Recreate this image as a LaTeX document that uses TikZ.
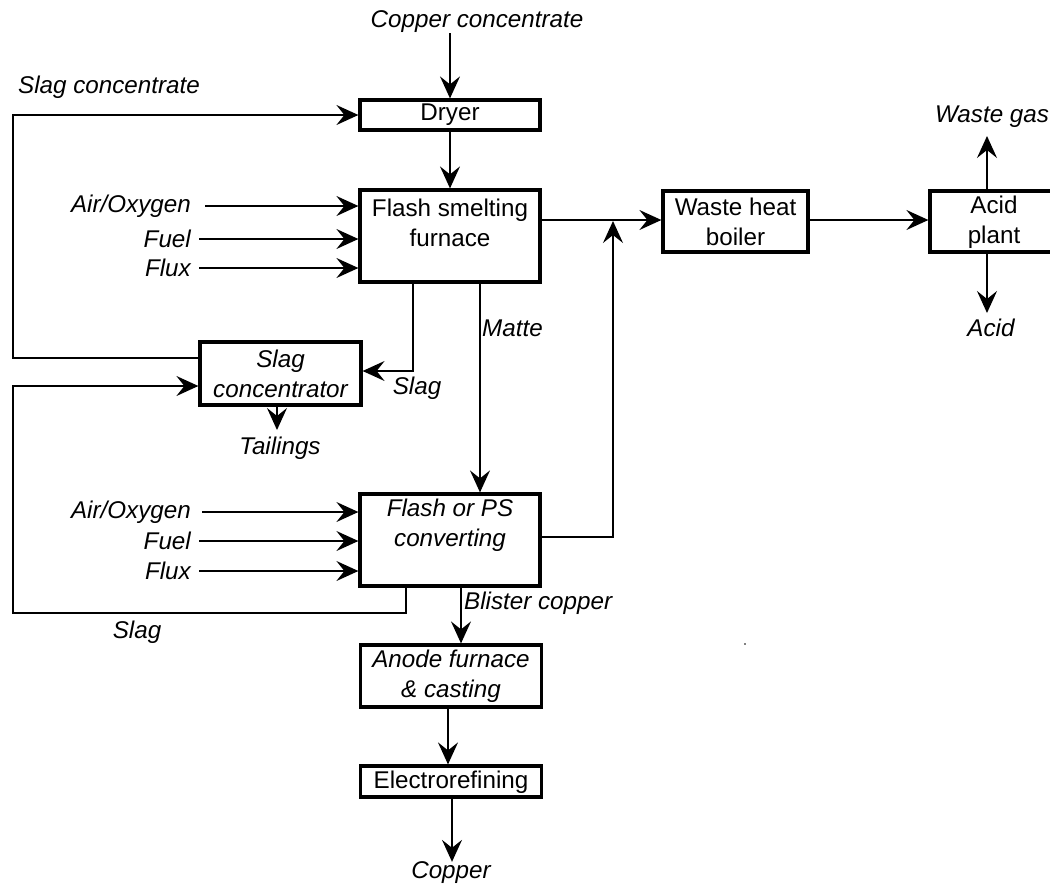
\documentclass[tikz,border=0pt]{standalone}
\usepackage{fontspec}
\setmainfont{Liberation Sans}
\usetikzlibrary{arrows.meta}
\begin{document}
\begin{tikzpicture}[x=1pt,y=-1pt,
  every node/.style={inner sep=0pt, font=\fontsize{24.2}{29.5}\selectfont},
  it/.style={font=\fontsize{24.2}{29.5}\selectfont\itshape},
  box/.style={draw, line width=3.2pt},
  lbl/.style={align=center},
  flow/.style={line width=1.7pt, -{Stealth[length=22pt,width=20pt,inset=8pt]}},
  plain/.style={line width=1.7pt}]
\useasboundingbox (0,0) rectangle (1050,884);

% boxes
\node[box, minimum width=180pt, minimum height=30pt] (dryer) at (450,115) {};
\node[lbl] (dryert) at (450,115) {Dryer};
\node[box, minimum width=180pt, minimum height=92pt] (fs) at (450,236) {};
\node[lbl] (fst) at (450,223) {Flash smelting\\furnace};
\node[box, minimum width=161pt, minimum height=63pt] (sc) at (280.5,373.5) {};
\node[lbl, it] (sct) at (280.5,374) {Slag\\concentrator};
\node[box, minimum width=180pt, minimum height=92pt] (fc) at (450,540) {};
\node[lbl, it] (fct) at (450,525) {Flash or PS\\converting};
\node[box, minimum width=145pt, minimum height=61pt] (whb) at (735.5,221.5) {};
\node[lbl] (whbt) at (735.5,222) {Waste heat\\boiler};
\node[box, minimum width=130pt, minimum height=61pt] (ap) at (995,221.5) {};
\node[lbl] (apt) at (994,222) {Acid\\plant};
\node[box, minimum width=181pt, minimum height=62pt] (an) at (451,676) {};
\node[lbl, it] (ant) at (451,676) {Anode furnace\\\& casting};
\node[box, minimum width=181pt, minimum height=31pt] (er) at (451,781.5) {};
\node[lbl] (ert) at (451,782) {Electrorefining};

% stream labels
\node[it] (cc) at (477,22) {Copper concentrate};
\node[it, anchor=west] (slc) at (18,87) {Slag concentrate};
\node[it, anchor=east] (ao1) at (191,206) {Air/Oxygen};
\node[it, anchor=east] (fu1) at (191,239) {Fuel};
\node[it, anchor=east] (fx1) at (191,268) {Flux};
\node[it, anchor=east] (ao2) at (191,512) {Air/Oxygen};
\node[it, anchor=east] (fu2) at (191,541) {Fuel};
\node[it, anchor=east] (fx2) at (191,571) {Flux};
\node[it] (slag1) at (417,388) {Slag};
\node[it, anchor=west] (matte) at (482,328) {Matte};
\node[it] (tail) at (280,448) {Tailings};
\node[it] (slag2) at (137,632) {Slag};
\node[it, anchor=west] (blister) at (464,603) {Blister copper};
\node[it] (wg) at (992,117) {Waste gas};
\node[it] (acid) at (991,328) {Acid};
\node[it] (copper) at (451,873) {Copper};
\fill (745,644) circle (0.9pt);

% coordinates
\coordinate (ul) at (13,358);
\coordinate (ll) at (13,613);
\coordinate (lt) at (13,386);
\coordinate (s1) at (413,371);
\coordinate (s2) at (406,613);
\coordinate (mt) at (480,282);
\coordinate (hy) at (613,220);
\coordinate (j) at (613,537);
\coordinate (tl) at (277,430);
\coordinate (wgt) at (987,136);
\coordinate (act) at (987,313);
\coordinate (bc) at (461,0);

% connectors
\draw[flow] (cc.south -| dryer.north) -- (dryer.north);
\draw[flow] (dryer.south) -- (fs.north);
\draw[flow] ([xshift=14pt]ao1.east) -- (ao1.east -| fs.west);
\draw[flow] ([xshift=8pt]fu1.east) -- (fu1.east -| fs.west);
\draw[flow] ([xshift=8pt]fx1.east) -- (fx1.east -| fs.west);
\draw[flow] ([xshift=11pt]ao2.east) -- (ao2.east -| fc.west);
\draw[flow] ([xshift=8pt]fu2.east) -- (fu2.east -| fc.west);
\draw[flow] ([xshift=8pt]fx2.east) -- (fx2.east -| fc.west);
\draw[flow] (ul -| sc.west) -- (ul) -- (ul |- dryer.west) -- (dryer.west);
\draw[flow] (s1 |- fs.south) -- (s1) -- (s1 -| sc.east);
\draw[flow] (mt |- fs.south) -- (mt |- fc.north);
\draw[flow] (tl |- sc.south) -- (tl);
\draw[flow] (s2 |- fc.south) -- (s2) -- (ll) -- (lt) -- (lt -| sc.west);
\draw[flow] (fs.east |- hy) -- (hy -| whb.west);
\draw[flow, shorten >=1pt] (j -| fc.east) -- (j) -- (hy);
\draw[flow] (whb.east |- hy) -- (hy -| ap.west);
\draw[flow] (wgt |- ap.north) -- (wgt);
\draw[flow] (act |- ap.south) -- (act);
\draw[flow] (bc |- fc.south) -- (bc |- an.north);
\draw[flow] ([xshift=-3pt]an.south) -- ([xshift=-3pt]an.south |- er.north);
\draw[flow] ([xshift=1pt]er.south) -- ([xshift=1pt]er.south |- copper.north);
\end{tikzpicture}
\end{document}
